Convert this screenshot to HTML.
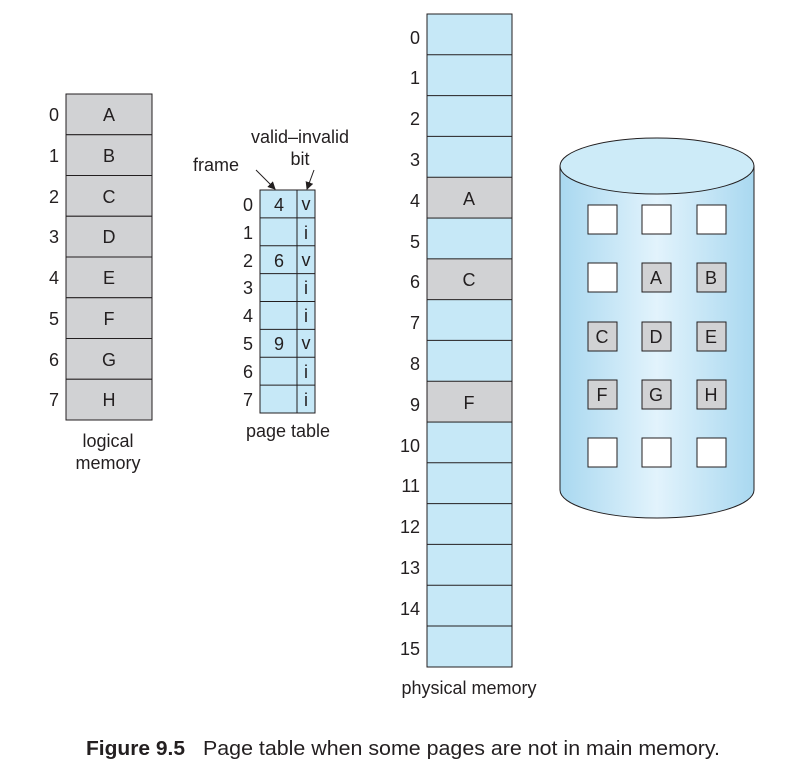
<!DOCTYPE html>
<html><head><style>
body{margin:0;background:#fff;}
svg text{font-family:"Liberation Sans",Arial,sans-serif;fill:#231f20;}
</style></head><body>
<svg width="792" height="771" viewBox="0 0 792 771" xmlns="http://www.w3.org/2000/svg">
<defs>
<linearGradient id="cyl" x1="0" x2="1" y1="0" y2="0">
<stop offset="0" stop-color="#a9d8f0"/><stop offset="0.5" stop-color="#e2f3fc"/><stop offset="1" stop-color="#a9d8f0"/>
</linearGradient>
<marker id="ah" markerWidth="8" markerHeight="8" refX="7" refY="4" orient="auto" markerUnits="userSpaceOnUse">
<path d="M0,0 L8,4 L0,8 z" fill="#231f20"/></marker>
</defs>
<g font-size="18">
<g stroke="#231f20" stroke-width="1" fill="#d1d2d4">
<rect x="66" y="94" width="86" height="40.75"/><rect x="66" y="134.75" width="86" height="40.75"/>
<rect x="66" y="175.5" width="86" height="40.75"/><rect x="66" y="216.25" width="86" height="40.75"/>
<rect x="66" y="257" width="86" height="40.75"/><rect x="66" y="297.75" width="86" height="40.75"/>
<rect x="66" y="338.5" width="86" height="40.75"/><rect x="66" y="379.25" width="86" height="40.75"/>
</g>
<g text-anchor="middle">
<text x="109" y="121">A</text><text x="109" y="162">B</text><text x="109" y="203">C</text><text x="109" y="243">D</text>
<text x="109" y="284">E</text><text x="109" y="325">F</text><text x="109" y="366">G</text><text x="109" y="406">H</text>
<text x="54" y="121">0</text><text x="54" y="162">1</text><text x="54" y="203">2</text><text x="54" y="243">3</text>
<text x="54" y="284">4</text><text x="54" y="325">5</text><text x="54" y="366">6</text><text x="54" y="406">7</text>
<text x="108" y="447">logical</text><text x="108" y="469">memory</text>
</g>
<rect x="260" y="190" width="55" height="223" fill="#c6e8f7" stroke="#231f20"/>
<line x1="297" y1="190" x2="297" y2="413" stroke="#231f20"/>
<g stroke="#231f20">
<line x1="260" y1="217.9" x2="315" y2="217.9"/><line x1="260" y1="245.8" x2="315" y2="245.8"/>
<line x1="260" y1="273.6" x2="315" y2="273.6"/><line x1="260" y1="301.5" x2="315" y2="301.5"/>
<line x1="260" y1="329.4" x2="315" y2="329.4"/><line x1="260" y1="357.3" x2="315" y2="357.3"/>
<line x1="260" y1="385.1" x2="315" y2="385.1"/>
</g>
<g text-anchor="middle">
<text x="248" y="211">0</text><text x="248" y="239">1</text><text x="248" y="267">2</text><text x="248" y="294">3</text>
<text x="248" y="322">4</text><text x="248" y="350">5</text><text x="248" y="378">6</text><text x="248" y="406">7</text>
<text x="279" y="211">4</text><text x="279" y="267">6</text><text x="279" y="350">9</text>
<text x="306" y="210">v</text><text x="306" y="239">i</text><text x="306" y="266">v</text><text x="306" y="294">i</text>
<text x="306" y="322">i</text><text x="306" y="349">v</text><text x="306" y="378">i</text><text x="306" y="406">i</text>
<text x="288" y="437">page table</text>
<text x="300" y="143">valid–invalid</text><text x="300" y="165">bit</text>
</g>
<text x="193" y="171">frame</text>
<line x1="256" y1="170" x2="275" y2="189" stroke="#231f20" marker-end="url(#ah)"/>
<line x1="314" y1="170" x2="307" y2="189" stroke="#231f20" marker-end="url(#ah)"/>
<g stroke="#231f20">
<rect x="427" y="14" width="85" height="653" fill="#c6e8f7"/>
<rect x="427" y="177.25" width="85" height="40.8" fill="#d1d2d4"/>
<rect x="427" y="258.85" width="85" height="40.8" fill="#d1d2d4"/>
<rect x="427" y="381.25" width="85" height="40.8" fill="#d1d2d4"/>
<line x1="427" x2="512" y1="54.8" y2="54.8"/><line x1="427" x2="512" y1="95.6" y2="95.6"/>
<line x1="427" x2="512" y1="136.4" y2="136.4"/><line x1="427" x2="512" y1="340.4" y2="340.4"/>
<line x1="427" x2="512" y1="462.8" y2="462.8"/><line x1="427" x2="512" y1="503.6" y2="503.6"/>
<line x1="427" x2="512" y1="544.4" y2="544.4"/><line x1="427" x2="512" y1="585.2" y2="585.2"/>
<line x1="427" x2="512" y1="626" y2="626"/>
</g>
<g text-anchor="middle">
<text x="469" y="205">A</text><text x="469" y="286">C</text><text x="469" y="409">F</text>
<text x="469" y="694">physical memory</text>
</g>
<g text-anchor="end">
<text x="420" y="44">0</text><text x="420" y="84">1</text><text x="420" y="125">2</text><text x="420" y="166">3</text>
<text x="420" y="207">4</text><text x="420" y="248">5</text><text x="420" y="288">6</text><text x="420" y="329">7</text>
<text x="420" y="370">8</text><text x="420" y="411">9</text><text x="420" y="452">10</text><text x="420" y="492">11</text>
<text x="420" y="533">12</text><text x="420" y="574">13</text><text x="420" y="615">14</text><text x="420" y="655">15</text>
</g>
<path d="M560,166 L560,490 A97,28 0 0 0 754,490 L754,166 Z" fill="url(#cyl)" stroke="#231f20"/>
<ellipse cx="657" cy="166" rx="97" ry="28" fill="#cdebf8" stroke="#231f20"/>
<g stroke="#231f20" fill="#fff">
<rect x="588" y="205" width="29" height="29"/><rect x="642" y="205" width="29" height="29"/><rect x="697" y="205" width="29" height="29"/>
<rect x="588" y="263" width="29" height="29"/><rect x="642" y="263" width="29" height="29" fill="#d1d2d4"/><rect x="697" y="263" width="29" height="29" fill="#d1d2d4"/>
<rect x="588" y="322" width="29" height="29" fill="#d1d2d4"/><rect x="642" y="322" width="29" height="29" fill="#d1d2d4"/><rect x="697" y="322" width="29" height="29" fill="#d1d2d4"/>
<rect x="588" y="380" width="29" height="29" fill="#d1d2d4"/><rect x="642" y="380" width="29" height="29" fill="#d1d2d4"/><rect x="697" y="380" width="29" height="29" fill="#d1d2d4"/>
<rect x="588" y="438" width="29" height="29"/><rect x="642" y="438" width="29" height="29"/><rect x="697" y="438" width="29" height="29"/>
</g>
<g text-anchor="middle">
<text x="656" y="284">A</text><text x="711" y="284">B</text>
<text x="602" y="343">C</text><text x="656" y="343">D</text><text x="711" y="343">E</text>
<text x="602" y="401">F</text><text x="656" y="401">G</text><text x="711" y="401">H</text>
</g>
</g>
<text x="86" y="755" font-size="20.5" font-weight="bold" textLength="99" lengthAdjust="spacingAndGlyphs">Figure 9.5</text>
<text x="203" y="755" font-size="20.5" textLength="517" lengthAdjust="spacingAndGlyphs">Page table when some pages are not in main memory.</text>
</svg>
</body></html>
